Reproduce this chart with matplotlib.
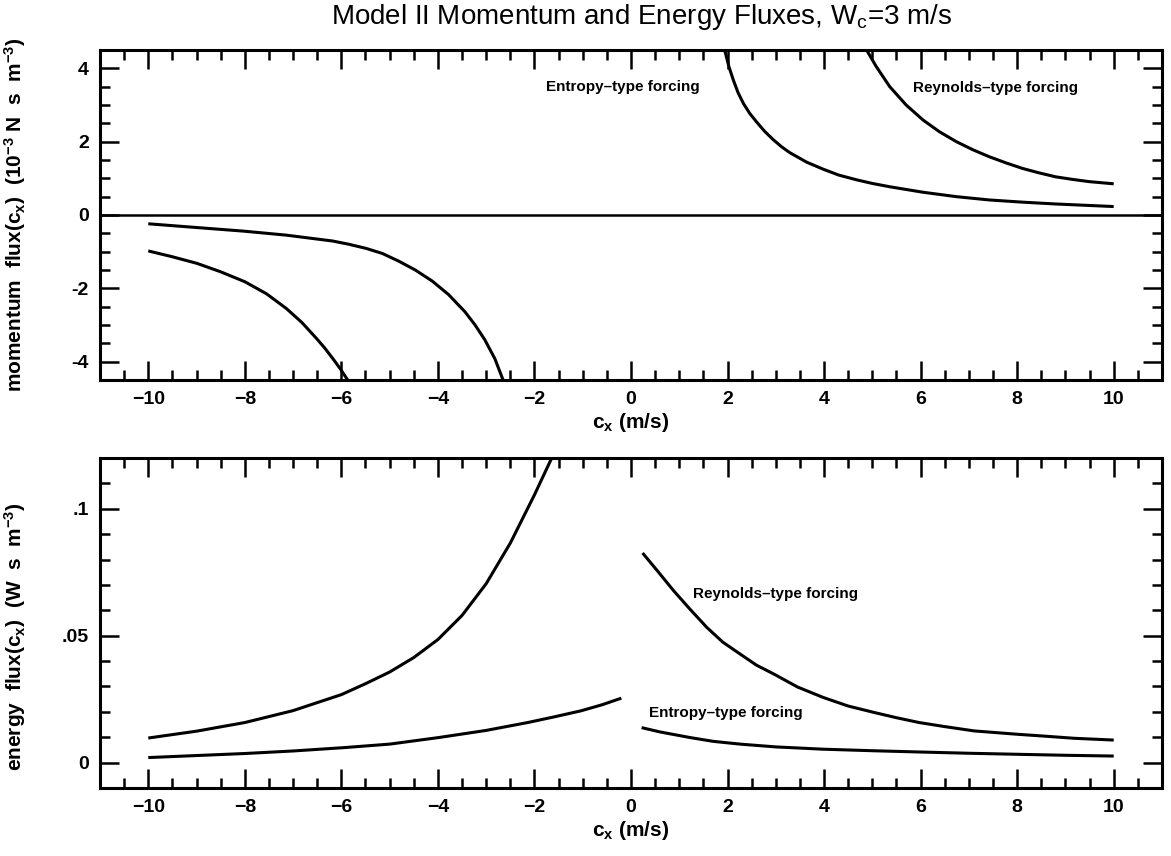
import numpy as np
import matplotlib.pyplot as plt
from matplotlib.ticker import MultipleLocator, FuncFormatter

plt.rcParams['font.family'] = ['Liberation Sans', 'DejaVu Sans']
plt.rcParams['mathtext.fontset'] = 'custom'
plt.rcParams['mathtext.rm'] = 'Liberation Sans:bold'
plt.rcParams['mathtext.it'] = 'Liberation Sans:bold'
plt.rcParams['mathtext.bf'] = 'Liberation Sans:bold'

# momentum flux (10^-3 N s m^-3), negative phase speeds
mom_entropy_neg_x = [-10.0, -8.92, -8.03, -7.14, -6.18, -5.84, -5.49, -5.15, -4.81, -4.47,
                     -4.12, -3.78, -3.44, -3.23, -3.03, -2.82, -2.65]
mom_entropy_neg_y = [-0.24, -0.35, -0.44, -0.55, -0.71, -0.80, -0.91, -1.05, -1.26, -1.50,
                     -1.80, -2.17, -2.64, -3.0, -3.40, -3.92, -4.5]
mom_reynolds_neg_x = [-10.0, -9.5, -8.99, -8.5, -8.0, -7.55, -7.14, -6.82, -6.52, -6.35,
                      -6.18, -6.02, -5.87]
mom_reynolds_neg_y = [-0.98, -1.14, -1.32, -1.55, -1.82, -2.15, -2.55, -2.93, -3.36, -3.62,
                      -3.91, -4.2, -4.5]

# momentum flux, positive phase speeds
mom_entropy_pos_x = [1.94, 2.03, 2.12, 2.22, 2.33, 2.46, 2.60, 2.77, 2.95, 3.12, 3.29, 3.64,
                     3.98, 4.3, 4.67, 5.0, 5.36, 6.05, 6.74, 7.42, 8.11, 8.80, 10.0]
mom_entropy_pos_y = [4.5, 4.04, 3.68, 3.33, 3.04, 2.77, 2.54, 2.28, 2.05, 1.86, 1.70, 1.44,
                     1.25, 1.09, 0.96, 0.86, 0.77, 0.62, 0.50, 0.41, 0.35, 0.30, 0.23]
mom_reynolds_pos_x = [4.88, 5.08, 5.36, 5.70, 6.05, 6.39, 6.74, 7.08, 7.42, 7.77, 8.11, 8.45,
                      8.80, 9.15, 9.49, 10.0]
mom_reynolds_pos_y = [4.5, 4.05, 3.50, 3.0, 2.59, 2.27, 2.0, 1.78, 1.59, 1.42, 1.27, 1.15,
                      1.04, 0.97, 0.91, 0.85]

# energy flux (W s m^-3)
en_reynolds_neg_x = [-10.0, -9.0, -8.0, -7.0, -6.0, -5.5, -5.0, -4.5, -4.0, -3.5, -3.0,
                     -2.5, -2.0, -1.63]
en_reynolds_neg_y = [0.0097, 0.0124, 0.0158, 0.0205, 0.0268, 0.0311, 0.0357, 0.0414, 0.0485,
                     0.058, 0.0705, 0.0865, 0.1055, 0.1205]
en_entropy_neg_x = [-10.0, -9.0, -8.0, -7.0, -5.96, -5.0, -3.98, -3.0, -2.14, -1.6, -1.04,
                    -0.6, -0.2]
en_entropy_neg_y = [0.002, 0.0028, 0.0036, 0.0046, 0.0059, 0.0073, 0.0099, 0.0127, 0.0158,
                    0.018, 0.0204, 0.0228, 0.0254]
en_reynolds_pos_x = [0.24, 0.55, 0.88, 1.22, 1.57, 1.9, 2.26, 2.6, 2.96, 3.45, 3.98, 4.5,
                     5.03, 5.5, 5.97, 6.5, 7.11, 7.99, 8.6, 9.18, 10.0]
en_reynolds_pos_y = [0.0826, 0.0755, 0.0678, 0.0605, 0.0533, 0.0475, 0.0428, 0.0384, 0.0349,
                     0.0298, 0.0257, 0.0223, 0.0198, 0.0177, 0.0158, 0.0142, 0.0125, 0.0112,
                     0.0104, 0.0096, 0.0089]
en_entropy_pos_x = [0.22, 0.6, 1.22, 1.7, 2.26, 3.0, 3.98, 5.0, 5.97, 7.0, 7.99, 9.0, 10.0]
en_entropy_pos_y = [0.0138, 0.0121, 0.0099, 0.0084, 0.0073, 0.0062, 0.0053, 0.0047, 0.0042,
                    0.0037, 0.0033, 0.0029, 0.0026]

LW = 2.2


def style_axes(ax, ymajor, yminor):
    ax.set_xlim(-11, 11)
    ax.xaxis.set_major_locator(MultipleLocator(2))
    ax.xaxis.set_minor_locator(MultipleLocator(0.5))
    ax.yaxis.set_major_locator(MultipleLocator(ymajor))
    ax.yaxis.set_minor_locator(MultipleLocator(yminor))
    ax.tick_params(which='both', direction='in', top=True, right=True, width=1.8)
    ax.tick_params(which='major', length=14, labelsize=14, pad=8)
    ax.tick_params(which='minor', length=7.5)
    for s in ax.spines.values():
        s.set_linewidth(2.2)
    ax.set_xlabel(r'c$_x$ (m/s)', fontsize=15, fontweight='bold', labelpad=2)


fig = plt.figure(figsize=(11.71, 8.56), dpi=100)
ax1 = fig.add_axes([0.0854, 0.5561, 0.9069, 0.3855])
ax2 = fig.add_axes([0.0854, 0.0794, 0.9069, 0.3855])

# top panel: momentum flux
ax1.axhline(0, color='black', lw=1.8)
for xs, ys in [(mom_entropy_neg_x, mom_entropy_neg_y), (mom_reynolds_neg_x, mom_reynolds_neg_y),
               (mom_entropy_pos_x, mom_entropy_pos_y), (mom_reynolds_pos_x, mom_reynolds_pos_y)]:
    ax1.plot(xs, ys, color='black', lw=LW, solid_capstyle='butt', solid_joinstyle='round')
ax1.set_ylim(-4.5, 4.5)
style_axes(ax1, 2, 0.5)
ax1.yaxis.set_major_formatter(FuncFormatter(lambda v, p: '%d' % round(v)))
ax1.set_ylabel(r'momentum  flux(c$_x$)  (10$^{-3}$ N  s  m$^{-3}$)', fontsize=15, fontweight='bold')
ax1.yaxis.set_label_coords(-0.068, 0.5)
ax1.text(-1.77, 3.5, 'Entropy\u2013type forcing', fontsize=11, fontweight='bold', va='center')
ax1.text(5.84, 3.45, 'Reynolds\u2013type forcing', fontsize=11, fontweight='bold', va='center')

# bottom panel: energy flux
for xs, ys in [(en_reynolds_neg_x, en_reynolds_neg_y), (en_entropy_neg_x, en_entropy_neg_y),
               (en_reynolds_pos_x, en_reynolds_pos_y), (en_entropy_pos_x, en_entropy_pos_y)]:
    ax2.plot(xs, ys, color='black', lw=LW, solid_capstyle='butt', solid_joinstyle='round')
ax2.set_ylim(-0.01, 0.12)
style_axes(ax2, 0.05, 0.01)


def short_fmt(v, p):
    if abs(v) < 1e-9:
        return '0'
    return ('%g' % v).lstrip('0')


ax2.yaxis.set_major_formatter(FuncFormatter(short_fmt))
ax2.set_ylabel(r'energy  flux(c$_x$)  (W  s  m$^{-3}$)', fontsize=15, fontweight='bold')
ax2.yaxis.set_label_coords(-0.068, 0.46)
ax2.text(1.29, 0.0665, 'Reynolds\u2013type forcing', fontsize=11, fontweight='bold', va='center')
ax2.text(0.38, 0.0194, 'Entropy\u2013type forcing', fontsize=11, fontweight='bold', va='center')

for ax in (ax1, ax2):
    for lab in ax.get_xticklabels() + ax.get_yticklabels():
        lab.set_fontweight('bold')

fig.text(0.548, 0.980, r'Model II Momentum and Energy Fluxes, W$_\mathregular{c}$=3 m/s',
         fontsize=20, ha='center', va='center')

fig.savefig('out.png', dpi=100)
